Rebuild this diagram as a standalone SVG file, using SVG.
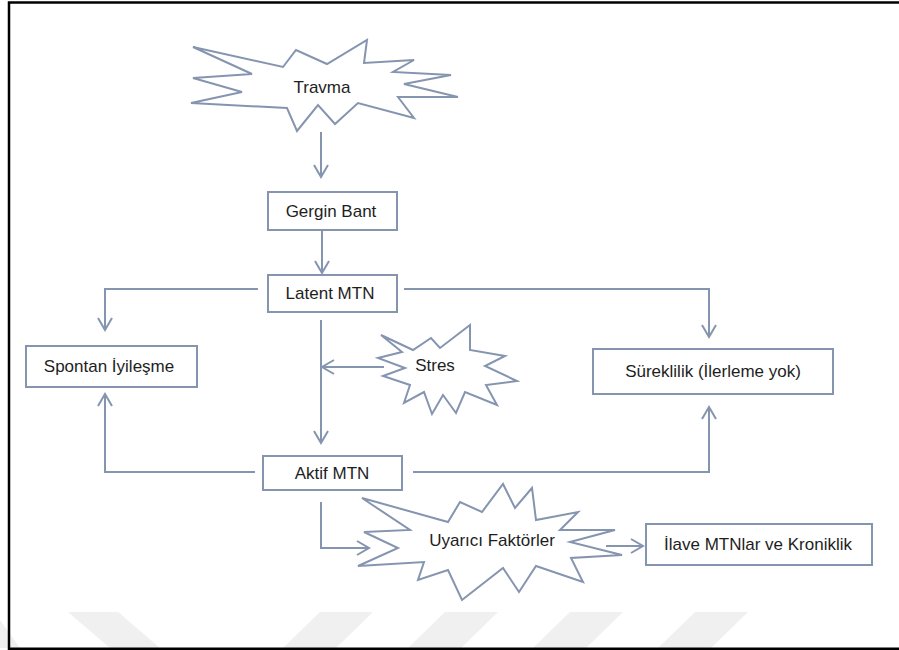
<svg xmlns="http://www.w3.org/2000/svg" width="899" height="650" viewBox="0 0 899 650">
  <defs>
    <style>
      .box { fill: #ffffff; stroke: #8595b0; stroke-width: 2; }
      .star { fill: #ffffff; stroke: #8595b0; stroke-width: 2; stroke-linejoin: miter; }
      .lbl { font-family: "Liberation Sans", Arial, sans-serif; font-size: 17px; fill: #1e1e1e; text-anchor: middle; }
      .wire { fill: none; stroke: #8595b0; stroke-width: 2; }
      .arr { marker-end: url(#head); }
      .wm { fill: #f0f0f0; }
    </style>
    <marker id="head" markerUnits="userSpaceOnUse" markerWidth="16" markerHeight="18" refX="13" refY="8" orient="auto">
      <path d="M1,1 L13,8 L1,15" fill="none" stroke="#8595b0" stroke-width="2"/>
    </marker>
  </defs>

  <rect width="899" height="650" fill="#ffffff"/>

  <!-- faint background stripes along the bottom -->
  <g id="stripes">
    <polygon class="wm" points="0,620 0,648 20,648"/>
    <polygon class="wm" points="68,612 118,612 160,648 110,648"/>
    <polygon class="wm" points="320,612 373,612 336,648 283,648"/>
    <polygon class="wm" points="445,612 498,612 461,648 408,648"/>
    <polygon class="wm" points="570,612 623,612 586,648 533,648"/>
    <polygon class="wm" points="695,612 748,612 711,648 658,648"/>
  </g>

  <!-- frame -->
  <path d="M9,650 V2.5 H899" fill="none" stroke="#000000" stroke-width="2.5"/>
  <path d="M9,648.8 H899" fill="none" stroke="#000000" stroke-width="2.5"/>

  <!-- connectors -->
  <g id="connectors">
    <path class="wire arr" d="M321,132 V177"/>
    <path class="wire arr" d="M322,231 V273"/>
    <path class="wire arr" d="M258,289 H105 V330"/>
    <path class="wire arr" d="M404,289 H709 V337"/>
    <path class="wire arr" d="M321,320 V443"/>
    <path class="wire arr" d="M384,367 H322"/>
    <path class="wire arr" d="M255,472 H105 V394"/>
    <path class="wire arr" d="M413,472 H709 V407"/>
    <path class="wire arr" d="M321,502 V548 H369"/>
    <path class="wire arr" d="M606,546 H643"/>
  </g>

  <g id="travma">
    <polygon class="star" points="193,47 283,67 296,50 327,64 367,40 364,63 414,60 393,72 451,75 404,84 458,97 398,97 414,118 358,103 335,124 318,105 297,131 287,108 191,103 242,92 193,78 252,74"/>
    <text class="lbl" x="322" y="93">Travma</text>
  </g>

  <g id="gergin-bant">
    <rect class="box" x="268" y="192" width="129" height="38"/>
    <text class="lbl" x="331" y="217">Gergin Bant</text>
  </g>

  <g id="latent-mtn">
    <rect class="box" x="268" y="275" width="129" height="37"/>
    <text class="lbl" x="330" y="299">Latent MTN</text>
  </g>

  <g id="spontan">
    <rect class="box" x="26" y="346" width="171" height="41"/>
    <text class="lbl" x="109" y="372">Spontan İyileşme</text>
  </g>

  <g id="stres">
    <polygon class="star" points="381,335 413,350 431,338 440,348 470,325 470,350 505,356 485,366 517,381 486,385 497,405 465,392 456,413 443,395 432,414 424,392 404,403 410,385 383,376 405,368 378,358 402,352"/>
    <text class="lbl" x="435" y="371">Stres</text>
  </g>

  <g id="sureklilik">
    <rect class="box" x="593" y="349" width="240" height="45"/>
    <text class="lbl" x="713" y="377">Süreklilik (İlerleme yok)</text>
  </g>

  <g id="aktif-mtn">
    <rect class="box" x="263" y="456" width="139" height="34"/>
    <text class="lbl" x="332" y="479">Aktif MTN</text>
  </g>

  <g id="uyarici">
    <polygon class="star" points="362,498 448,522 460,502 482,512 503,484 515,508 532,488 536,520 578,512 560,530 615,530 570,542 622,555 571,558 583,582 536,566 519,592 503,568 462,600 448,570 418,580 424,562 358,566 398,548 364,532 410,530"/>
    <text class="lbl" x="492" y="546">Uyarıcı Faktörler</text>
  </g>

  <g id="ilave">
    <rect class="box" x="646" y="524" width="226" height="41"/>
    <text class="lbl" x="758" y="550">İlave MTNlar ve Kroniklik</text>
  </g>
</svg>
